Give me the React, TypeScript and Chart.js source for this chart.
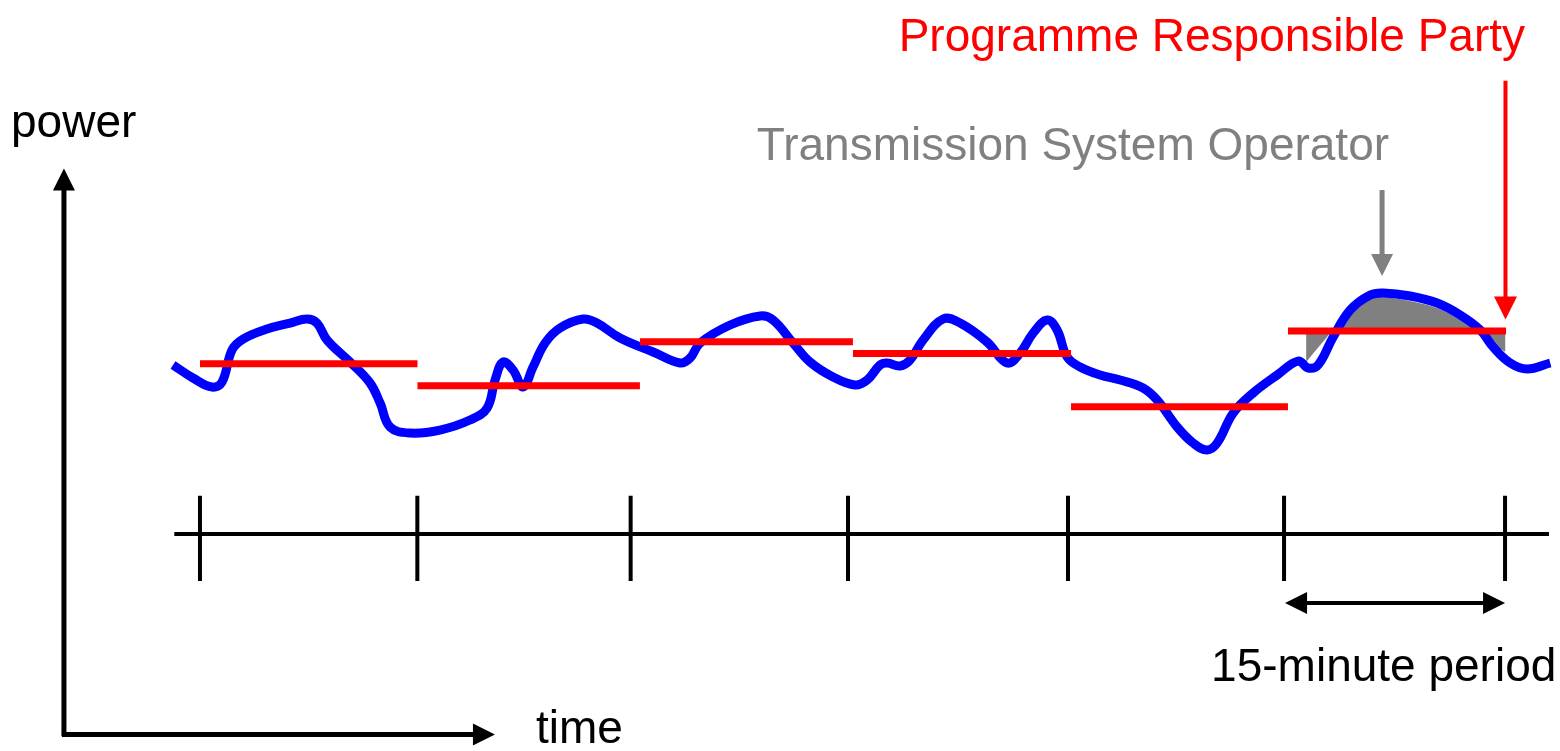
import React, { useEffect, useRef } from "react";
import { Chart, registerables } from "chart.js";

Chart.register(...registerables);

// ---- data (time in minutes, power in arbitrary units) ----
const blueTime = [
  -1.86, -0.48, 0.83, 1.52, 2.21, 2.97, 4.62, 6.21, 7.38, 8.07, 8.76, 10.35, 11.73, 12.42, 13.11, 14.48,
  16.55, 18.62, 19.8, 20.35, 20.9, 21.59, 22.28, 22.97, 23.8, 24.83, 26.42, 27.38, 28.97, 31.25, 33.11,
  33.8, 34.49, 36.56, 38.63, 39.52, 40.9, 42.07, 43.66, 45.18, 46.01, 46.9, 47.39, 48.28, 48.97, 49.87,
  51.25, 52.42, 54.28, 55.66, 56.56, 57.46, 58.42, 59.11, 59.8, 60.7, 62.08, 63.46, 65.04, 66.01, 67.39,
  68.49, 69.46, 70.15, 71.25, 72.63, 74.29, 75.73, 76.42, 77.11, 78.15, 79.32, 80.7, 81.6, 83.46, 85.32,
  86.91, 88.29, 89.18, 90.36, 91.53, 93.12,
];
const bluePower = [
  50.33, 48.56, 47.33, 48.01, 52.37, 53.86, 55.23, 56.04, 56.59, 56.04, 53.73, 50.73, 47.88, 45.16, 41.89, 41.07,
  41.48, 42.84, 44.47, 48.29, 50.73, 49.65, 47.33, 50.05, 53.32, 55.36, 56.59, 56.04, 54.0, 52.1, 50.6,
  51.28, 53.32, 55.77, 57.0, 56.45, 53.32, 50.73, 48.69, 47.6, 48.29, 50.33, 50.6, 50.19, 51.01, 53.73,
  56.59, 56.04, 53.46, 50.6, 51.96, 54.68, 56.45, 55.09, 51.42, 50.05, 48.97, 48.29, 47.2, 45.56, 41.89,
  39.71, 38.76, 39.71, 43.79, 46.52, 48.97, 50.87, 49.92, 50.33, 54.14, 57.81, 59.85, 60.13, 59.72, 58.76,
  57.13, 55.09, 52.78, 50.6, 49.78, 50.6,
];

// deviation (grey area) in the last period
const greyTime = [76.28, 77.72, 79.31, 80.69, 81.52, 83.45, 85.31, 87.1, 88.28, 89.17, 90.03];
const greyPower = [50.73, 54.14, 57.81, 59.44, 59.58, 59.04, 58.08, 56.31, 54.95, 53.18, 52.1];

// scheduled (red) levels per 15-minute period
const periodStarts = [0, 15, 30.34, 45.03, 60.07, 75.03];
const periodEnds = [15, 30.34, 45.03, 60.07, 75.03, 90.07];
const scheduleLevels = [50.5, 47.5, 53.5, 51.9, 44.65, 54.95];

// timeline with period boundaries
const tickTimes = [0, 14.99, 29.7, 44.69, 59.86, 74.76, 90];
const timelineTimes = [-1.77, 93.03];
const timelineLevel = 27.33;
const tickPowers = [20.93, 32.54];

// arrows: [startTime, startPower, endTime, endPower]
const powerAxisArrow = [-9.38, -0.15, -9.38, 77.07];
const timeAxisArrow = [-9.52, 0.05, 20.34, 0.05];
const tsoArrow = [81.52, 74.14, 81.52, 62.44];
const prpArrow = [90.03, 89.02, 90.03, 56.52];
const periodArrow = [74.83, 17.94, 90.0, 17.94];

// labels
const labelTexts = ["power", "time", "Transmission System Operator", "Programme Responsible Party", "15-minute period"];
const labelTimes = [-13.03, 23.17, 38.4, 91.38, 69.73];
const labelPowers = [81.29, -1.12, 78.23, 93.06, 7.32];

// ---- styles ----
const FONT = '46px "Liberation Sans", Arial, sans-serif';
const labelColors = ["#000000", "#000000", "#808080", "#ff0000", "#000000"];
const labelAligns: CanvasTextAlign[] = ["left", "left", "left", "right", "left"];

function drawHead(ctx: CanvasRenderingContext2D, tipX: number, tipY: number, ux: number, uy: number, len: number, w: number) {
  const bx = tipX - ux * len;
  const by = tipY - uy * len;
  const px = -uy;
  const py = ux;
  ctx.beginPath();
  ctx.moveTo(tipX, tipY);
  ctx.lineTo(bx + (px * w) / 2, by + (py * w) / 2);
  ctx.lineTo(bx - (px * w) / 2, by - (py * w) / 2);
  ctx.closePath();
  ctx.fill();
}

function drawArrow(
  chart: any,
  spec: number[],
  color: string,
  width: number,
  headLen: number,
  headW: number,
  both: boolean
) {
  const ctx: CanvasRenderingContext2D = chart.ctx;
  const xs = chart.scales.x;
  const ys = chart.scales.y;
  const x1 = xs.getPixelForValue(spec[0]);
  const y1 = ys.getPixelForValue(spec[1]);
  const x2 = xs.getPixelForValue(spec[2]);
  const y2 = ys.getPixelForValue(spec[3]);
  const dx = x2 - x1;
  const dy = y2 - y1;
  const d = Math.hypot(dx, dy);
  const ux = dx / d;
  const uy = dy / d;
  ctx.save();
  ctx.strokeStyle = color;
  ctx.fillStyle = color;
  ctx.lineWidth = width;
  ctx.lineCap = "butt";
  ctx.beginPath();
  const sx = both ? x1 + ux * (headLen - 2) : x1;
  const sy = both ? y1 + uy * (headLen - 2) : y1;
  ctx.moveTo(sx, sy);
  ctx.lineTo(x2 - ux * (headLen - 2), y2 - uy * (headLen - 2));
  ctx.stroke();
  drawHead(ctx, x2, y2, ux, uy, headLen, headW);
  if (both) drawHead(ctx, x1, y1, -ux, -uy, headLen, headW);
  ctx.restore();
}

const annotationPlugin = {
  id: "annotations",
  afterDatasetsDraw(chart: any) {
    const ctx: CanvasRenderingContext2D = chart.ctx;
    drawArrow(chart, powerAxisArrow, "#000000", 5, 22, 22, false);
    drawArrow(chart, timeAxisArrow, "#000000", 5, 22, 22, false);
    drawArrow(chart, tsoArrow, "#808080", 5, 22, 22, false);
    drawArrow(chart, prpArrow, "#ff0000", 4, 23, 23, false);
    drawArrow(chart, periodArrow, "#000000", 4, 22, 22, true);
    ctx.save();
    ctx.font = FONT;
    ctx.textBaseline = "alphabetic";
    labelTexts.forEach((t, i) => {
      ctx.fillStyle = labelColors[i];
      ctx.textAlign = labelAligns[i];
      ctx.fillText(
        t,
        chart.scales.x.getPixelForValue(labelTimes[i]),
        chart.scales.y.getPixelForValue(labelPowers[i])
      );
    });
    ctx.restore();
  },
};

export default function App() {
  const ref = useRef<HTMLCanvasElement | null>(null);

  useEffect(() => {
    if (!ref.current) return;

    const bluePts = blueTime.map((t, i) => ({ x: t, y: bluePower[i] }));
    const greyPts = greyTime.map((t, i) => ({ x: t, y: greyPower[i] }));
    const redPts: { x: number; y: number | null }[] = [];
    scheduleLevels.forEach((lvl, i) => {
      if (i > 0) redPts.push({ x: periodStarts[i], y: null });
      redPts.push({ x: periodStarts[i], y: lvl });
      redPts.push({ x: periodEnds[i], y: lvl });
    });
    const tickPts: { x: number; y: number | null }[] = [];
    tickTimes.forEach((t, i) => {
      if (i > 0) tickPts.push({ x: t, y: null });
      tickPts.push({ x: t, y: tickPowers[0] });
      tickPts.push({ x: t, y: tickPowers[1] });
    });
    const timelinePts = timelineTimes.map((t) => ({ x: t, y: timelineLevel }));

    const chart = new Chart(ref.current, {
      type: "line",
      data: {
        datasets: [
          {
            label: "schedule",
            data: redPts as any,
            borderColor: "#ff0000",
            borderWidth: 7,
            borderCapStyle: "butt",
            tension: 0,
            pointRadius: 0,
            spanGaps: false,
            fill: false,
            order: 0,
          },
          {
            label: "power",
            data: bluePts,
            borderColor: "#0000ff",
            borderWidth: 9,
            borderCapStyle: "butt",
            borderJoinStyle: "round",
            tension: 0.4,
            pointRadius: 0,
            fill: false,
            order: 1,
          },
          {
            label: "deviation",
            data: greyPts,
            borderWidth: 0,
            borderColor: "rgba(0,0,0,0)",
            backgroundColor: "#808080",
            tension: 0.3,
            pointRadius: 0,
            fill: { value: scheduleLevels[5] } as any,
            order: 2,
          },
          {
            label: "timeline",
            data: timelinePts,
            borderColor: "#000000",
            borderWidth: 4,
            borderCapStyle: "butt",
            tension: 0,
            pointRadius: 0,
            fill: false,
            order: 3,
          },
          {
            label: "ticks",
            data: tickPts as any,
            borderColor: "#000000",
            borderWidth: 4,
            borderCapStyle: "butt",
            tension: 0,
            pointRadius: 0,
            spanGaps: false,
            fill: false,
            order: 3,
          },
        ],
      },
      options: {
        animation: false,
        responsive: false,
        layout: { padding: 0 },
        events: [],
        scales: {
          x: { type: "linear", min: -13.79, max: 93.79, display: false },
          y: { type: "linear", min: -2.2, max: 100, display: false },
        },
        plugins: {
          legend: { display: false },
          tooltip: { enabled: false },
        },
      },
      plugins: [annotationPlugin],
    });

    return () => chart.destroy();
  }, []);

  return (
    <div style={{ position: "fixed", left: 0, top: 0, width: 1560, height: 751, background: "#ffffff" }}>
      <canvas ref={ref} width={1560} height={751} style={{ display: "block" }} />
    </div>
  );
}
